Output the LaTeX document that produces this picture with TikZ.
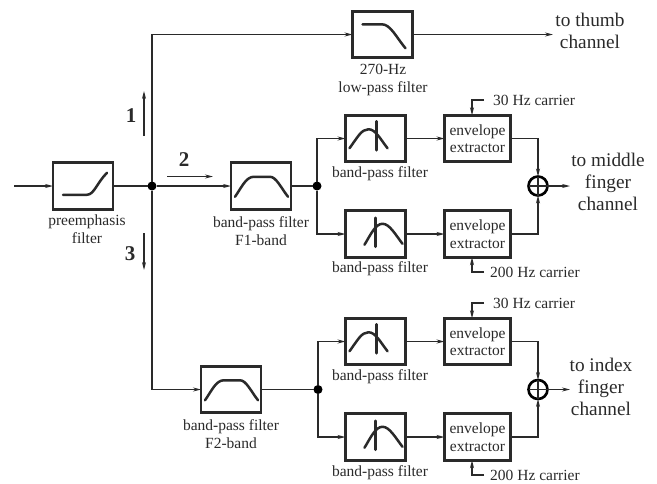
\documentclass[tikz,border=0pt]{standalone}
\usepackage{fontspec}
\setmainfont{Liberation Serif}
\usetikzlibrary{arrows.meta}
\definecolor{ink}{HTML}{2A2A2A}
\tikzset{
  x=1pt,y=-1pt,
  every node/.style={text=ink},
  wire/.style={draw=ink,line width=1.2pt},
  bus/.style={draw=ink,line width=1.6pt},
  arr/.style={wire,-{Stealth[length=8pt,width=4pt]}},
  filterbox/.style={draw=ink,line width=2.8pt,fill=white,minimum width=60pt,minimum height=46.5pt,inner sep=0pt,outer sep=0pt},
  envbox/.style={filterbox,minimum width=66pt,align=center,font=\fontsize{15.5}{17.5}\selectfont},
  curve/.style={draw=ink,line width=2.5pt,line cap=round,line join=round},
  lbl/.style={font=\fontsize{15.5}{18}\selectfont,align=center,inner sep=0pt},
  outlbl/.style={font=\fontsize{19.3}{22}\selectfont,align=center,inner sep=0pt},
  num/.style={font=\fontsize{21}{22}\selectfont\bfseries,inner sep=0pt},
  junction/.style={circle,fill=black,minimum size=9pt,inner sep=0pt,outer sep=0pt},
  sumnode/.style={circle,draw=black,line width=2.6pt,fill=white,minimum size=19pt,inner sep=0pt,outer sep=0pt},
}
\newcommand{\bandleft}[1]{\begin{scope}[shift={(#1.north west)}]
  \draw[curve] (4,33) .. controls (12,22) and (16,14) .. (23,14) .. controls (30,14) and (35,24) .. (42,33);
  \draw[curve] (31,6) -- (31,35);
\end{scope}}
\newcommand{\bandright}[1]{\begin{scope}[shift={(#1.north west)}]
  \draw[curve] (19,34) .. controls (25,24) and (30,13) .. (37,13) .. controls (44,13) and (50,24) .. (57,33);
  \draw[curve] (30,7) -- (30,36);
\end{scope}}
\newcommand{\bandwide}[1]{\begin{scope}[shift={(#1.north west)}]
  \draw[curve] (4,34) .. controls (11,24) and (15,14) .. (23,14) -- (39,14) .. controls (45,14) and (50,25) .. (57,34);
\end{scope}}
\newcommand{\sumplus}[1]{\draw[wire] (#1.north) -- (#1.south) (#1.west) -- (#1.east);}
\begin{document}
\begin{tikzpicture}
\useasboundingbox (0,0) rectangle (657,483);
% filter boxes
\node[filterbox] (pre) at (83,186) {};
\node[filterbox] (low) at (382.5,34.5) {};
\node[filterbox] (f1) at (261,186) {};
\node[filterbox] (f2) at (231,389.5) {};
\node[filterbox] (b1) at (375.5,138.5) {};
\node[filterbox] (b2) at (375.5,234) {};
\node[filterbox] (b3) at (375.5,341.5) {};
\node[filterbox] (b4) at (375.5,437) {};
\node[envbox] (e1) at (477.5,138.5) {envelope\\extractor};
\node[envbox] (e2) at (477.5,234) {envelope\\extractor};
\node[envbox] (e3) at (477.5,341.5) {envelope\\extractor};
\node[envbox] (e4) at (477.5,437) {envelope\\extractor};
\node[junction] (j1) at (152,186) {};
\node[junction] (j2) at (317,186) {};
\node[junction] (j3) at (318,389.5) {};
\node[sumnode] (s1) at (538,186) {};
\node[sumnode] (s2) at (538,389.5) {};
\sumplus{s1}\sumplus{s2}
% free ends
\coordinate (in) at (14,186);
\coordinate (thumb) at (553,34.5);
\coordinate (mid) at (570,186);
\coordinate (idx) at (570,389.5);
\coordinate (cx) at (472,0);
% curves
\begin{scope}[shift={(pre.north west)}]
  \draw[curve] (10,32) -- (34,32) .. controls (41,32) and (44,20) .. (54,10);
\end{scope}
\begin{scope}[shift={(low.north west)}]
  \draw[curve] (10,13) -- (29,13) .. controls (38,13) and (43,25) .. (53,37);
\end{scope}
\bandwide{f1}\bandwide{f2}
\bandleft{b1}\bandright{b2}\bandleft{b3}\bandright{b4}
% connectors
\draw[arr] (in) -- (pre.west);
\draw[bus] (pre.east) -- (j1);
\draw[arr] (j1) -- (f1.west);
\draw[bus] (f1.east) -- (j2);
\draw[bus] (j1) |- (low.west);
\draw[arr] (j1 |- low.west) ++(20,0) -- (low.west);
\draw[bus] (j1) |- (f2.west);
\draw[arr] (j1 |- f2.west) ++(20,0) -- (f2.west);
\draw[arr] (low.east) -- (thumb);
\draw[bus] (f2.east) -- (j3);
\draw[arr] (j2) |- (b1.west);
\draw[arr] (j2) |- (b2.west);
\draw[arr] (j3) |- (b3.west);
\draw[arr] (j3) |- (b4.west);
\draw[arr] (b1.east) -- (e1.west);
\draw[arr] (b2.east) -- (e2.west);
\draw[arr] (b3.east) -- (e3.west);
\draw[arr] (b4.east) -- (e4.west);
\draw[arr] (e1.east) -| (s1.north);
\draw[arr] (e2.east) -| (s1.south);
\draw[arr] (e3.east) -| (s2.north);
\draw[arr] (e4.east) -| (s2.south);
\draw[arr] (s1.east) -- (mid);
\draw[arr] (s2.east) -- (idx);
% carriers
\node[lbl,anchor=west,inner xsep=9pt] (c1) at (484,100) {30 Hz carrier};
\node[lbl,anchor=west,inner xsep=6pt] (c2) at (484,272) {200 Hz carrier};
\node[lbl,anchor=west,inner xsep=9pt] (c3) at (484,303) {30 Hz carrier};
\node[lbl,anchor=west,inner xsep=6pt] (c4) at (484,475) {200 Hz carrier};
\draw[arr] (c1.west) -| (e1.north -| cx);
\draw[arr] (c2.west) -| (e2.south -| cx);
\draw[arr] (c3.west) -| (e3.north -| cx);
\draw[arr] (c4.west) -| (e4.south -| cx);
% labels
\node[lbl] (lpre) at (87,229) {preemphasis\\filter};
\node[lbl] (llow) at (383,80) {270-Hz\\low-pass filter};
\node[lbl] (lf1) at (261,231) {band-pass filter\\F1-band};
\node[lbl] (lf2) at (231,434) {band-pass filter\\F2-band};
\node[lbl] (lb1) at (380,174) {band-pass filter};
\node[lbl] (lb2) at (380,269) {band-pass filter};
\node[lbl] (lb3) at (380,377) {band-pass filter};
\node[lbl] (lb4) at (380,473) {band-pass filter};
\node[outlbl] (othumb) at (590,31) {to thumb\\channel};
\node[outlbl] (omid) at (608,182) {to middle\\finger\\channel};
\node[outlbl] (oidx) at (601,387) {to index\\finger\\channel};
% path numbers
\node[num] (n1) at (131,116) {1};
\node[num] (n2) at (184,160) {2};
\node[num] (n3) at (130,254) {3};
\coordinate (a1s) at (144,136); \coordinate (a1e) at (144,91);
\coordinate (a2s) at (167,176.5); \coordinate (a2e) at (213,176.5);
\coordinate (a3s) at (144,233); \coordinate (a3e) at (144,270);
\draw[arr] (a1s) -- (a1e);
\draw[arr] (a2s) -- (a2e);
\draw[arr] (a3s) -- (a3e);
\end{tikzpicture}
\end{document}
